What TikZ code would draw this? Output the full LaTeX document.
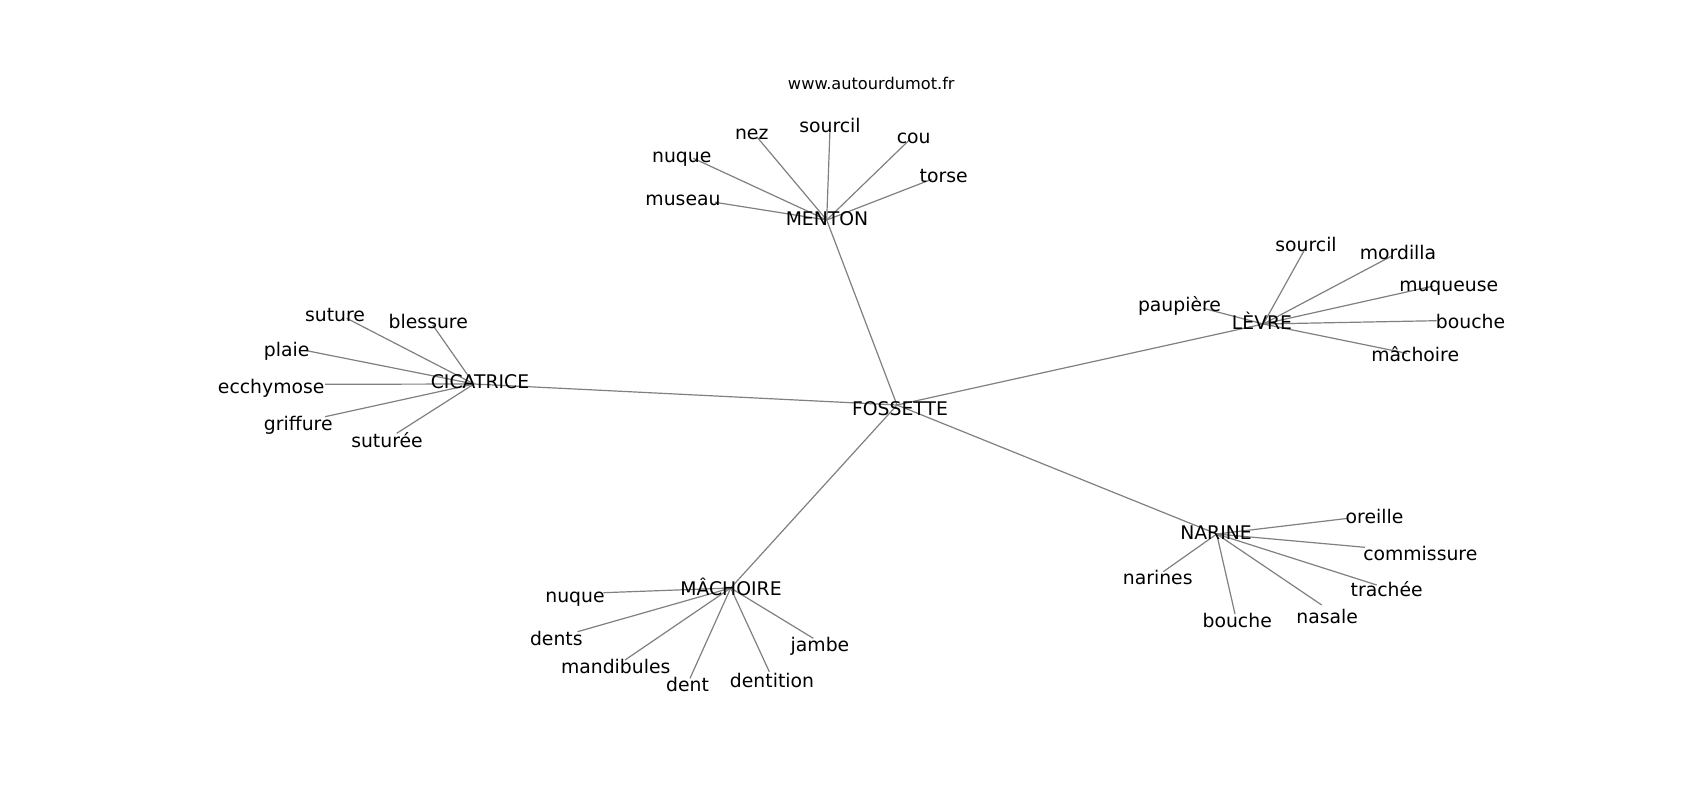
\documentclass[tikz,border=0pt]{standalone}
\usepackage{fontspec}
\setmainfont{DejaVu Sans}
\begin{document}
\begin{tikzpicture}[x=1pt,y=-1pt,
  edge/.style={draw=black!50, line width=1.2pt},
  lbl/.style={inner sep=0pt, text height=0.76em, text depth=0.24em, yshift=-6.5pt, font=\fontsize{18.8}{22}\selectfont, text=black},
  url/.style={inner sep=0pt, yshift=-1pt, font=\fontsize{16.2}{19}\selectfont, text=black}]
\useasboundingbox[fill=white] (0,0) rectangle (1700,800);

% hubs
\coordinate (hF) at (897,405);
\coordinate (hM) at (826.7,220);
\coordinate (hL) at (1263.3,324);
\coordinate (hC) at (474,384);
\coordinate (hN) at (1216.7,534);
\coordinate (hX) at (730.7,588);

% leaf ends: MENTON
\coordinate (m1) at (756.7,136.7);
\coordinate (m2) at (830,129);
\coordinate (m3) at (910,139.3);
\coordinate (m4) at (931.7,179.3);
\coordinate (m5) at (693.3,158.3);
\coordinate (m6) at (715,202.3);
% LEVRE
\coordinate (l1) at (1305,249);
\coordinate (l2) at (1391.7,256);
\coordinate (l3) at (1433.3,286);
\coordinate (l4) at (1436.7,320.7);
\coordinate (l5) at (1406.7,353.3);
\coordinate (l6) at (1203.3,308.3);
% CICATRICE
\coordinate (c1) at (346.7,318.3);
\coordinate (c2) at (432.7,325);
\coordinate (c3) at (306.7,350.7);
\coordinate (c4) at (325,384.3);
\coordinate (c5) at (325,416.7);
\coordinate (c6) at (396.7,433.3);
% NARINE
\coordinate (n1) at (1348.3,518.3);
\coordinate (n2) at (1365,547.3);
\coordinate (n3) at (1376.7,585);
\coordinate (n4) at (1321.7,605);
\coordinate (n5) at (1235,614);
\coordinate (n6) at (1163.3,571.7);
% MACHOIRE
\coordinate (x1) at (603.3,592.7);
\coordinate (x2) at (577.5,631.7);
\coordinate (x3) at (625,660);
\coordinate (x4) at (690,678.3);
\coordinate (x5) at (769.3,671.7);
\coordinate (x6) at (813.3,638.3);

% edges
\draw[edge] (hF) -- (hM);
\draw[edge] (hF) -- (hL);
\draw[edge] (hF) -- (hC);
\draw[edge] (hF) -- (hN);
\draw[edge] (hF) -- (hX);
\foreach \i in {1,...,6} {
  \draw[edge] (hM) -- (m\i);
  \draw[edge] (hL) -- (l\i);
  \draw[edge] (hC) -- (c\i);
  \draw[edge] (hN) -- (n\i);
  \draw[edge] (hX) -- (x\i);
}

% labels
\node[url] (www) at (871.3,82) {www.autourdumot.fr};

\node[lbl] (tF) at (900,406.4) {FOSSETTE};
\node[lbl] (tM) at (827,216.5) {MENTON};
\node[lbl] (tL) at (1262,320.5) {LÈVRE};
\node[lbl] (tC) at (480,379) {CICATRICE};
\node[lbl] (tN) at (1216,530.5) {NARINE};
\node[lbl] (tX) at (731,586) {MÂCHOIRE};

\node[lbl] (tm1) at (751.7,130.7) {nez};
\node[lbl] (tm2) at (830,123.3) {sourcil};
\node[lbl] (tm3) at (913.7,134) {cou};
\node[lbl] (tm4) at (943.7,173.3) {torse};
\node[lbl] (tm5) at (681.7,153.3) {nuque};
\node[lbl] (tm6) at (683,196.7) {museau};

\node[lbl] (tl1) at (1306,242.7) {sourcil};
\node[lbl] (tl2) at (1398,250) {mordilla};
\node[lbl] (tl3) at (1448.7,282.3) {muqueuse};
\node[lbl] (tl4) at (1470.5,319.3) {bouche};
\node[lbl] (tl5) at (1415.2,352.7) {mâchoire};
\node[lbl] (tl6) at (1179.5,302.7) {paupière};

\node[lbl] (tc1) at (335,312.7) {suture};
\node[lbl] (tc2) at (428.3,319.3) {blessure};
\node[lbl] (tc3) at (286.7,347.3) {plaie};
\node[lbl] (tc4) at (271.2,384.3) {ecchymose};
\node[lbl] (tc5) at (298.3,421.7) {griffure};
\node[lbl] (tc6) at (387,438.3) {suturée};

\node[lbl] (tn1) at (1374.5,514) {oreille};
\node[lbl] (tn2) at (1420.3,551.7) {commissure};
\node[lbl] (tn3) at (1386.7,587.3) {trachée};
\node[lbl] (tn4) at (1327.2,614.3) {nasale};
\node[lbl] (tn5) at (1237.2,618.3) {bouche};
\node[lbl] (tn6) at (1157.7,575) {narines};

\node[lbl] (tx1) at (575,593.3) {nuque};
\node[lbl] (tx2) at (556.3,636) {dents};
\node[lbl] (tx3) at (615.7,664) {mandibules};
\node[lbl] (tx4) at (687.5,682.7) {dent};
\node[lbl] (tx5) at (772,678.3) {dentition};
\node[lbl] (tx6) at (820,642.7) {jambe};
\end{tikzpicture}
\end{document}
